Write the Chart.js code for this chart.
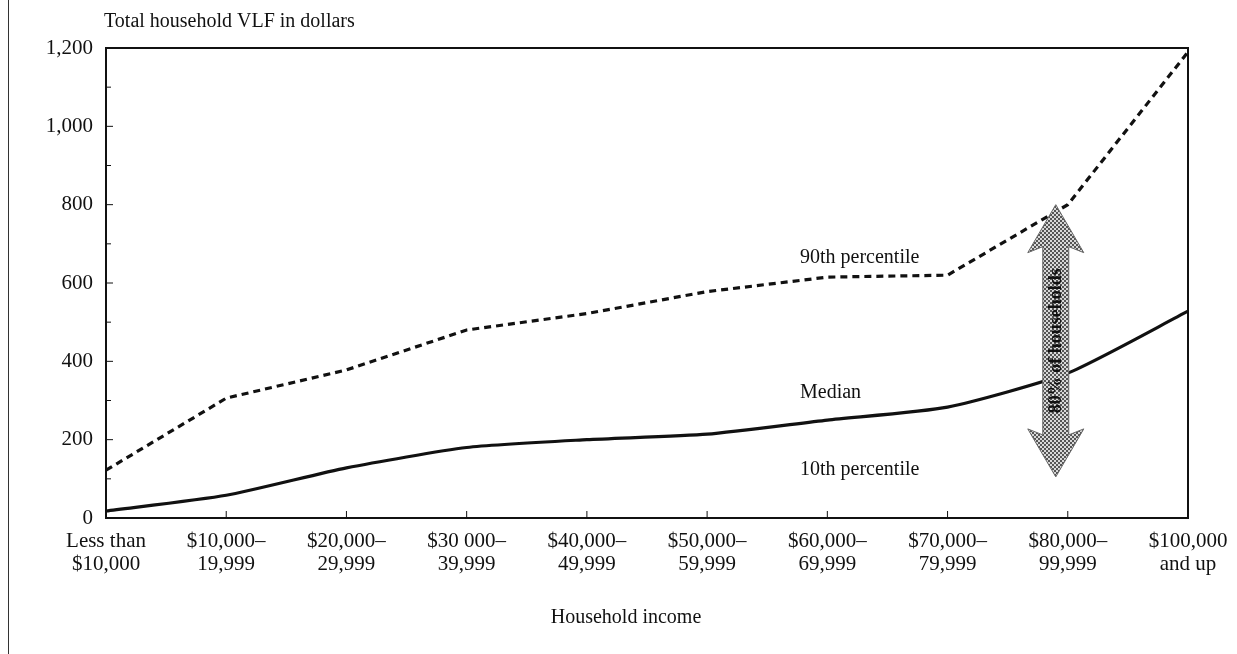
<!DOCTYPE html>
<html>
<head>
<meta charset="utf-8">
<script src="https://cdn.jsdelivr.net/npm/chart.js@4.4.1/dist/chart.umd.min.js"></script>
<style>
  html, body { margin: 0; padding: 0; background: #fff; }
  #wrap { position: relative; width: 1237px; height: 654px; }
  #wrap:before { content: ''; position: absolute; left: 8px; top: 0; bottom: 0; border-left: 1px solid #333; }
</style>
</head>
<body>
<div id="wrap"><canvas id="chart" width="1237" height="654"></canvas></div>
<script>
const incomeLabels = [
    ['Less than', '$10,000'],
    ['$10,000\u2013', '19,999'],
    ['$20,000\u2013', '29,999'],
    ['$30 000\u2013', '39,999'],
    ['$40,000\u2013', '49,999'],
    ['$50,000\u2013', '59,999'],
    ['$60,000\u2013', '69,999'],
    ['$70,000\u2013', '79,999'],
    ['$80,000\u2013', '99,999'],
    ['$100,000', 'and up']
];
const p90Data = [122, 306, 378, 480, 522, 578, 615, 620, 800, 1190];
const medianData = [18, 58, 128, 180, 200, 214, 250, 283, 370, 528];
const yTicks = [0, 200, 400, 600, 800, 1000, 1200];

const FONT = '"Liberation Serif", "DejaVu Serif", serif';

// extra drawing: frame, inner ticks, labels, arrow
const extras = {
    id: 'extras',
    afterDatasetsDraw(chart) {
        const c = chart.ctx;
        const a = chart.chartArea;
        const xs = chart.scales.x;
        const ys = chart.scales.y;
        c.save();
        c.strokeStyle = '#111';
        c.lineWidth = 2;
        c.beginPath();
        c.moveTo(a.left, a.top);
        c.lineTo(a.right, a.top);
        c.lineTo(a.right, a.bottom);
        c.stroke();

        // inner ticks
        c.lineWidth = 1;
        for (let v = 100; v < 1200; v += 100) {
            const y = ys.getPixelForValue(v);
            c.beginPath();
            c.moveTo(a.left, y);
            c.lineTo(a.left + (v % 200 === 0 ? 7 : 5), y);
            c.stroke();
        }
        for (let i = 1; i < incomeLabels.length - 1; i++) {
            const x = xs.getPixelForValue(i);
            c.beginPath();
            c.moveTo(x, a.bottom);
            c.lineTo(x, a.bottom - 7);
            c.stroke();
        }

        // arrow between 10th and 90th percentile
        const ax = xs.getPixelForValue(8) - 12;
        const yTop = ys.getPixelForValue(800);
        const yBot = ys.getPixelForValue(105);
        const sw = 13, hw = 28, hl = 48;
        const pat = document.createElement('canvas');
        pat.width = 4; pat.height = 4;
        const pc = pat.getContext('2d');
        pc.fillStyle = '#d8d8d8';
        pc.fillRect(0, 0, 4, 4);
        pc.fillStyle = '#555';
        pc.fillRect(0, 0, 2, 2);
        pc.fillRect(2, 2, 2, 2);
        c.fillStyle = c.createPattern(pat, 'repeat');
        c.beginPath();
        c.moveTo(ax, yTop);
        c.lineTo(ax + hw, yTop + hl);
        c.lineTo(ax + sw, yTop + hl - 6);
        c.lineTo(ax + sw, yBot - hl + 6);
        c.lineTo(ax + hw, yBot - hl);
        c.lineTo(ax, yBot);
        c.lineTo(ax - hw, yBot - hl);
        c.lineTo(ax - sw, yBot - hl + 6);
        c.lineTo(ax - sw, yTop + hl - 6);
        c.lineTo(ax - hw, yTop + hl);
        c.closePath();
        c.fill();
        c.strokeStyle = '#666';
        c.stroke();

        c.save();
        c.translate(ax, (yTop + yBot) / 2);
        c.rotate(-Math.PI / 2);
        c.fillStyle = '#111';
        c.font = 'bold 18px ' + FONT;
        c.textAlign = 'center';
        c.textBaseline = 'middle';
        c.fillText('80% of households', 0, 1);
        c.restore();

        // text labels
        c.fillStyle = '#111';
        c.font = '20px ' + FONT;
        c.textBaseline = 'middle';
        c.textAlign = 'left';
        c.fillText('Total household VLF in dollars', 104, 22);
        c.fillText('90th percentile', 800, 258);
        c.fillText('Median', 800, 393);
        c.fillText('10th percentile', 800, 470);
        c.textAlign = 'center';
        c.fillText('Household income', 626, 618);
        c.restore();
    }
};

const ctx = document.getElementById('chart').getContext('2d');

const chart = new Chart(ctx, {
    type: 'line',
    data: {
        labels: incomeLabels,
        datasets: [
            {
                label: '90th percentile',
                data: p90Data,
                borderColor: '#111',
                borderWidth: 3.2,
                borderDash: [7, 5],
                pointRadius: 0,
                tension: 0
            },
            {
                label: 'Median',
                data: medianData,
                borderColor: '#111',
                borderWidth: 3.2,
                pointRadius: 0,
                tension: 0.2
            }
        ]
    },
    options: {
        animation: false,
        responsive: false,
        layout: { padding: { left: 0, top: 48, right: 49, bottom: 0 } },
        plugins: {
            legend: { display: false },
            tooltip: { enabled: false }
        },
        scales: {
            x: {
                type: 'category',
                offset: false,
                grid: { display: false, drawTicks: false },
                border: { display: true, color: '#111', width: 2 },
                ticks: {
                    color: '#111',
                    font: { family: FONT, size: 21, lineHeight: 1.1 },
                    padding: 12,
                    maxRotation: 0,
                    autoSkip: false
                },
                afterFit(scale) {
                    scale.height = 136;
                    scale.paddingLeft = 0;
                    scale.paddingRight = 0;
                }
            },
            y: {
                min: 0,
                max: 1200,
                afterBuildTicks(scale) { scale.ticks = yTicks.map(v => ({ value: v })); },
                grid: { display: false, drawTicks: false },
                border: { display: true, color: '#111', width: 2 },
                ticks: {
                    color: '#111',
                    font: { family: FONT, size: 21 },
                    padding: 13,
                    callback: v => v.toLocaleString('en-US')
                },
                afterFit(scale) {
                    scale.width = 106;
                    scale.paddingTop = 0;
                    scale.paddingBottom = 0;
                }
            }
        }
    },
    plugins: [extras]
});
</script>
</body>
</html>
